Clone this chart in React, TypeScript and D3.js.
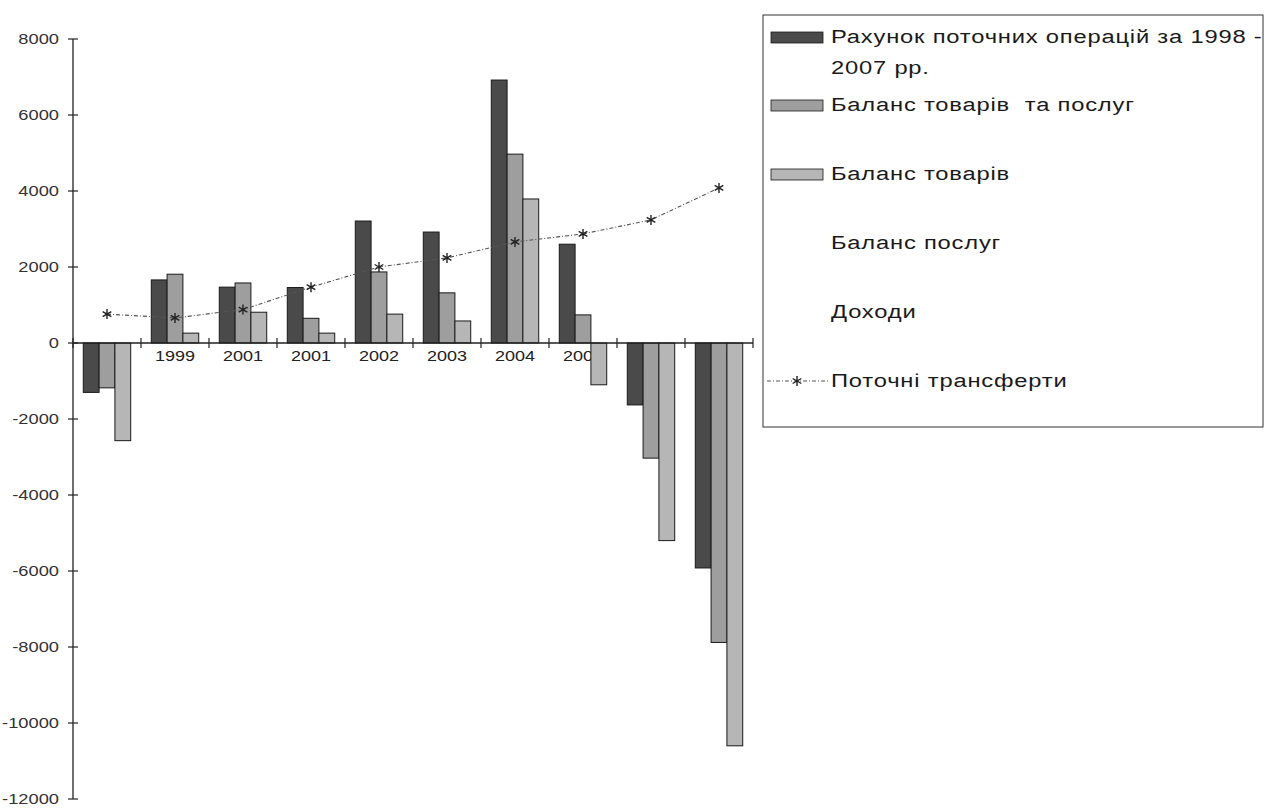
import React from "react";
import * as d3 from "d3";

const categories = ["1998", "1999", "2001", "2001", "2002", "2003", "2004", "2005", "2006", "2007"];
const currentAccount = [-1300, 1660, 1470, 1460, 3210, 2920, 6920, 2600, -1630, -5920];
const goodsServices = [-1180, 1810, 1580, 650, 1870, 1320, 4970, 740, -3030, -7880];
const goods = [-2570, 260, 810, 260, 760, 580, 3790, -1100, -5200, -10600];
const transfers = [760, 660, 880, 1470, 2000, 2240, 2660, 2870, 3240, 4080];
const yTicks = [8000, 6000, 4000, 2000, 0, -2000, -4000, -6000, -8000, -10000, -12000];
const legendLabels = [
  ["Рахунок поточних операцій за 1998 -", "2007 рр."],
  ["Баланс товарів  та послуг"],
  ["Баланс товарів"],
  ["Баланс послуг"],
  ["Доходи"],
  ["Поточні трансферти"],
];

const barSeries = [
  { name: "ca", values: currentAccount, fill: "#4a4a4a" },
  { name: "gs", values: goodsServices, fill: "#9e9e9e" },
  { name: "g", values: goods, fill: "#b6b6b6" },
];

const FONT = "'Liberation Sans', Arial, sans-serif";

function SText(props: {
  x: number;
  y: number;
  sx: number;
  size: number;
  anchor?: "start" | "middle" | "end";
  fill?: string;
  spacing?: number;
  children: React.ReactNode;
}) {
  return (
    <text
      transform={`translate(${props.x},${props.y}) scale(${props.sx},1)`}
      textAnchor={props.anchor ?? "start"}
      dominantBaseline="central"
      fontFamily={FONT}
      fontSize={props.size}
      letterSpacing={props.spacing ?? 0}
      fill={props.fill ?? "#1a1a1a"}
      style={{ whiteSpace: "pre" }}
    >
      {props.children}
    </text>
  );
}

export default function App() {
  const idx = categories.map((_, i) => i);
  const x = d3.scaleBand<number>().domain(idx).range([73, 753]).padding(0);
  const inner = d3
    .scaleBand<string>()
    .domain(barSeries.map((s) => s.name))
    .range([0, x.bandwidth()])
    .paddingInner(0)
    .paddingOuter(0.65);
  const y = d3.scaleLinear().domain([-12000, 8000]).range([799, 39]);
  const y0 = y(0);

  const line = d3
    .line<number>()
    .x((_, i) => (x(i) as number) + x.bandwidth() / 2)
    .y((d) => y(d));
  const star = d3.symbol().type(d3.symbolAsterisk ?? d3.symbolCross).size(70);

  const legendX = 763;
  const legendY = 15;
  const rowY = [37, 105, 174, 243, 312, 381];

  return (
    <svg width={1265} height={808} style={{ position: "absolute", left: 0, top: 0, background: "#fff" }}>
      {/* y axis */}
      <line x1={73} x2={73} y1={y(8000)} y2={y(-12000)} stroke="#222" strokeWidth={1.3} />
      {yTicks.map((t) => (
        <g key={t}>
          <line x1={68} x2={78} y1={y(t)} y2={y(t)} stroke="#222" strokeWidth={1.2} />
          <SText x={59} y={y(t)} sx={1.22} size={15} anchor="end" fill="#333">
            {t}
          </SText>
        </g>
      ))}
      {/* category labels (drawn before bars so bars cover them) */}
      {categories.map((c, i) => (
        <SText key={"l" + i} x={(x(i) as number) + x.bandwidth() / 2} y={356} sx={1.2} size={15} anchor="middle" fill="#222">
          {c}
        </SText>
      ))}
      {/* bars */}
      {barSeries.map((s) =>
        s.values.map((v, i) => {
          const bx = (x(i) as number) + (inner(s.name) as number);
          const top = Math.min(y(v), y0);
          const h = Math.abs(y(v) - y0);
          return (
            <rect
              key={s.name + i}
              x={bx}
              y={top}
              width={inner.bandwidth()}
              height={h}
              fill={s.fill}
              stroke="#1a1a1a"
              strokeWidth={1}
            />
          );
        })
      )}
      {/* x axis */}
      <line x1={73} x2={753} y1={y0} y2={y0} stroke="#222" strokeWidth={1.3} />
      {d3.range(categories.length + 1).map((i) => {
        const tx = i < categories.length ? (x(i) as number) : 753;
        return <line key={"t" + i} x1={tx} x2={tx} y1={y0 - 5} y2={y0 + 5} stroke="#222" strokeWidth={1.2} />;
      })}
      {/* transfers line */}
      <path d={line(transfers) ?? ""} fill="none" stroke="#555" strokeWidth={1.1} strokeDasharray="4,2,1,2" />
      {transfers.map((v, i) => (
        <path
          key={"m" + i}
          d={star() ?? ""}
          transform={`translate(${(x(i) as number) + x.bandwidth() / 2},${y(v)})`}
          fill="none"
          stroke="#222"
          strokeWidth={1.4}
        />
      ))}
      {/* legend */}
      <rect x={legendX} y={legendY} width={500} height={412} fill="#fff" stroke="#333" strokeWidth={1} />
      {legendLabels.map((lines, k) => (
        <g key={"lg" + k}>
          {k < 3 && (
            <rect
              x={771}
              y={rowY[k] - 5}
              width={52}
              height={11}
              fill={barSeries[k].fill}
              stroke="#1a1a1a"
              strokeWidth={0.8}
            />
          )}
          {k === 5 && (
            <g>
              <line x1={767} x2={828} y1={rowY[k]} y2={rowY[k]} stroke="#555" strokeWidth={1.1} strokeDasharray="4,2,1,2" />
              <path d={star() ?? ""} transform={`translate(${797},${rowY[k]})`} fill="none" stroke="#222" strokeWidth={1.4} />
            </g>
          )}
          {lines.map((ln, j) => (
            <SText key={j} x={831} y={rowY[k] + j * 31} sx={1.32} size={18} spacing={0.6}>
              {ln}
            </SText>
          ))}
        </g>
      ))}
    </svg>
  );
}
